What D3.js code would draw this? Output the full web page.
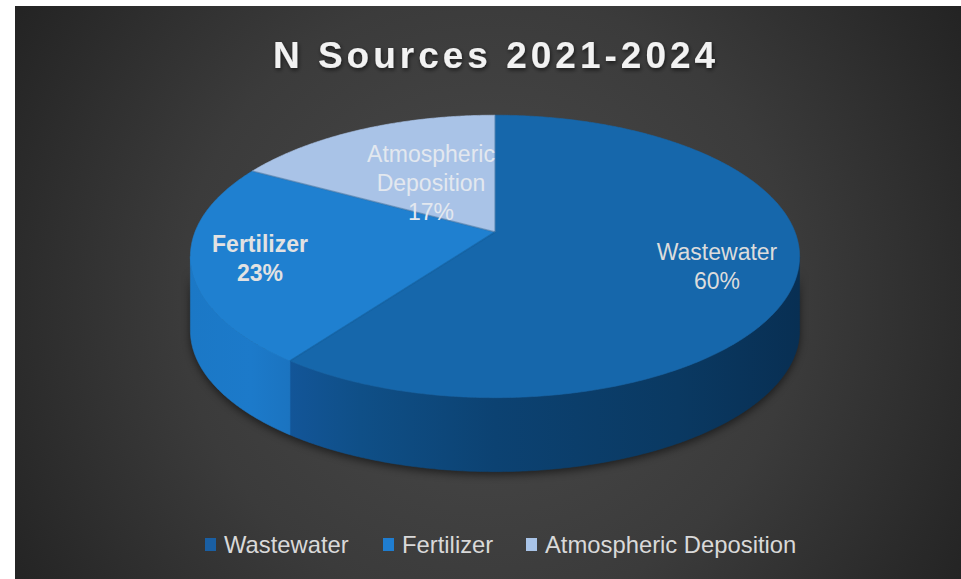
<!DOCTYPE html>
<html>
<head>
<meta charset="utf-8">
<script src="https://cdn.jsdelivr.net/npm/d3@7"></script>
<style>
  html, body { margin: 0; padding: 0; background: #ffffff; }
  svg { display: block; }
</style>
</head>
<body>
<svg id="chart" width="961" height="579"></svg>
<script>
// N source shares, 2021-2024
const categories = ["Wastewater", "Fertilizer", "Atmospheric Deposition"];
const shares = [60, 23, 17];
const labelLines = [["Wastewater", "60%"], ["Fertilizer", "23%"], ["Atmospheric", "Deposition", "17%"]];
const chartTitle = "N Sources 2021-2024";

const W = 961, H = 579;
const svg = d3.select("#chart");
const defs = svg.append("defs");

// Background panel with a soft radial glow
const bg = defs.append("radialGradient").attr("id", "bgGrad")
  .attr("gradientUnits", "userSpaceOnUse")
  .attr("cx", 488).attr("cy", 300).attr("r", 560);
bg.append("stop").attr("offset", 0).attr("stop-color", "#4b4b4b");
bg.append("stop").attr("offset", 0.55).attr("stop-color", "#3b3b3b");
bg.append("stop").attr("offset", 1).attr("stop-color", "#232323");
svg.append("rect").attr("x", 15).attr("y", 6).attr("width", W - 15).attr("height", H - 6)
  .attr("fill", "url(#bgGrad)");

// Title
const shadow = defs.append("filter").attr("id", "txtShadow")
  .attr("x", "-10%").attr("y", "-30%").attr("width", "120%").attr("height", "160%");
shadow.append("feDropShadow").attr("dx", 1).attr("dy", 2).attr("stdDeviation", 2)
  .attr("flood-color", "#000").attr("flood-opacity", 0.6);
svg.append("text").attr("x", 496).attr("y", 68)
  .attr("text-anchor", "middle")
  .attr("font-family", "'Liberation Sans', Arial, sans-serif")
  .attr("font-weight", "bold").attr("font-size", 37)
  .attr("letter-spacing", 4)
  .attr("fill", "#f2f2f2").attr("filter", "url(#txtShadow)")
  .text(chartTitle);

// 3D pie geometry: perspective-projected disk
const cx = 495, cy = 232;      // projected centre of the top face
const A = 300, B = 137, persp = 0.173;
const depth = 74;
function proj(a, dy = 0) {
  const u = Math.sin(a), w = -Math.cos(a);
  const k = 1 - persp * w;
  return [cx + A * u / k, cy + B * w / k + dy];
}
const step = Math.PI / 360;
function arcPoints(a0, a1, dy = 0) {
  const pts = [];
  const n = Math.max(2, Math.ceil((a1 - a0) / step));
  for (let i = 0; i <= n; i++) pts.push(proj(a0 + (a1 - a0) * i / n, dy));
  return pts;
}
const line = d3.line();

const pie = d3.pie().sort(null).value(d => d)
  .startAngle(0).endAngle(2 * Math.PI);
const arcs = pie(shares);

const topColor = d3.scaleOrdinal().domain(categories).range(["#1667ab", "#1f80d0", "#a9c3e7"]);
const legendColor = d3.scaleOrdinal().domain(categories).range(["#1a5fa3", "#1f7dd0", "#a9c4e8"]);
const wallStops = [
  [["0", "#13579a"], ["0.15", "#13569a"], ["0.28", "#0f4f87"], ["0.5", "#0c4272"], ["0.8", "#0a3962"], ["1", "#082f53"]],
  [["0", "#1b78c6"], ["0.1", "#1c7aca"], ["0.2", "#1a70bb"], ["1", "#1a6fba"]],
  [["0", "#8fb0da"], ["1", "#8fb0da"]]
];
wallStops.forEach((stops, i) => {
  const g = defs.append("linearGradient").attr("id", "wall" + i)
    .attr("gradientUnits", "userSpaceOnUse")
    .attr("x1", 190).attr("x2", 800).attr("y1", 0).attr("y2", 0);
  stops.forEach(s => g.append("stop").attr("offset", s[0]).attr("stop-color", s[1]));
});

// Drop shadow under the disk
const blur = defs.append("filter").attr("id", "pieShadow")
  .attr("x", "-10%").attr("y", "-10%").attr("width", "120%").attr("height", "130%");
blur.append("feGaussianBlur").attr("stdDeviation", 4);
const frontL = Math.PI * 2 - Math.acos(-persp), frontR = Math.acos(-persp);
const shadowPts = arcPoints(frontR, frontL, depth + 3).concat(arcPoints(frontR, frontL, 10).reverse());
svg.append("path").attr("d", line(shadowPts) + "Z")
  .attr("fill", "#000").attr("opacity", 0.55).attr("filter", "url(#pieShadow)");

const pieG = svg.append("g");

// Outer walls (front-facing arc only)
arcs.forEach((d, i) => {
  const a0 = Math.max(d.startAngle, frontR), a1 = Math.min(d.endAngle, frontL);
  if (a1 <= a0) return;
  const pts = arcPoints(a0, a1).concat(arcPoints(a0, a1, depth).reverse());
  pieG.append("path").attr("d", line(pts) + "Z")
    .attr("fill", `url(#wall${i})`)
    .attr("stroke", `url(#wall${i})`).attr("stroke-width", 0.6);
});

// Top faces
arcs.forEach((d, i) => {
  const pts = [[cx, cy]].concat(arcPoints(d.startAngle, d.endAngle));
  pieG.append("path").attr("d", line(pts) + "Z")
    .attr("fill", topColor(categories[i]))
    .attr("stroke", topColor(categories[i])).attr("stroke-width", 0.6);
});
// slight seam along the slice borders
arcs.forEach((d, i) => {
  pieG.append("path").attr("d", line([[cx, cy], proj(d.startAngle)]))
    .attr("stroke", "#0e4c82").attr("stroke-opacity", 0.35).attr("stroke-width", 1.5);
});

// Data labels
const labelPos = [[717, 260], [260, 252], [431, 162]];
const labelStyle = [
  { weight: "normal", fill: "#dcdcdc" },
  { weight: "bold", fill: "#e2e2e2" },
  { weight: "normal", fill: "#e3e8ef" }
];
labelLines.forEach((lines, i) => {
  const t = svg.append("text")
    .attr("x", labelPos[i][0]).attr("y", labelPos[i][1])
    .attr("text-anchor", "middle")
    .attr("font-family", "'Liberation Sans', Arial, sans-serif")
    .attr("font-size", 23)
    .attr("font-weight", labelStyle[i].weight)
    .attr("fill", labelStyle[i].fill);
  lines.forEach((s, j) => t.append("tspan").attr("x", labelPos[i][0]).attr("dy", j === 0 ? 0 : 29).text(s));
});

// Legend
const legendX = [205, 383, 526];
const lg = svg.append("g");
categories.forEach((c, i) => {
  lg.append("rect").attr("x", legendX[i]).attr("y", 538).attr("width", 11).attr("height", 13)
    .attr("fill", legendColor(c));
  lg.append("text").attr("x", legendX[i] + 19).attr("y", 553)
    .attr("font-family", "'Liberation Sans', Arial, sans-serif")
    .attr("font-size", 23.8).attr("fill", "#d9d9d9")
    .text(c);
});
</script>
</body>
</html>
